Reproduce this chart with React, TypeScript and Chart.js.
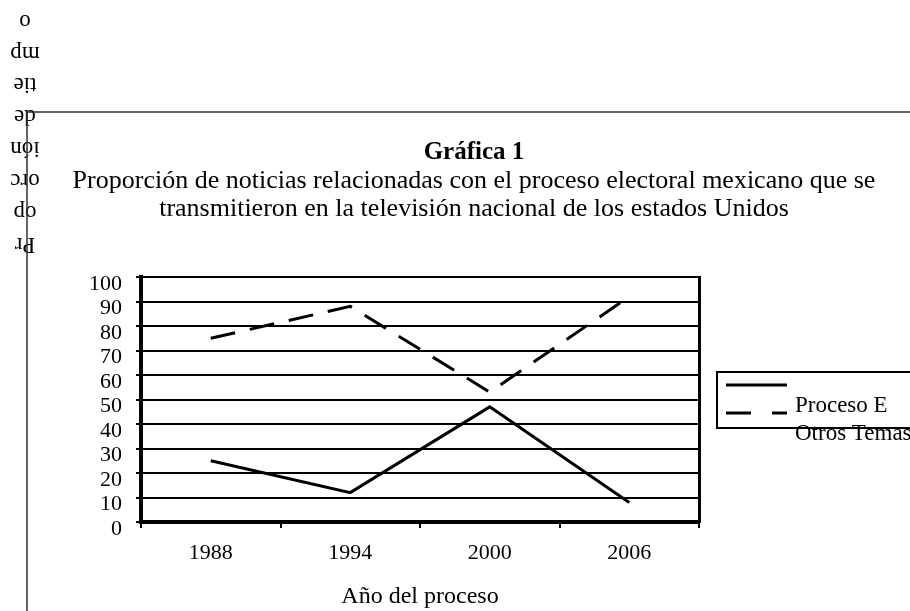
import React, { useEffect, useRef } from 'react';
import { Chart, registerables } from 'chart.js';

Chart.register(...registerables);

// ---- data ----
const categories = ['1988', '1994', '2000', '2006'];
const procesoElectoral = [25, 12, 47, 8];
const otrosTemas = [75, 88, 53, 92];
const seriesLabels = ['Proceso E', 'Otros Temas'];
const yMin = 0;
const yMax = 100;
const yStep = 10;
const titleText = 'Gráfica 1';
const subtitleLines = [
  'Proporción de noticias relacionadas con el proceso electoral mexicano que se',
  'transmitieron en la televisión nacional de los estados Unidos',
];
const xAxisTitle = 'Año del proceso';
// y-axis title as wrapped (and upside-down) in the original
const yAxisTitleChunks = ['Pr', 'op', 'orc', 'ión', 'de', 'tie', 'mp', 'o'];

const FONT = '"Liberation Serif", "Times New Roman", serif';

const framePlugin = {
  id: 'frameAndYTitle',
  beforeDraw(chart: any) {
    const ctx = chart.ctx;
    ctx.save();
    ctx.fillStyle = '#000';
    ctx.font = `23px ${FONT}`;
    ctx.textAlign = 'center';
    ctx.textBaseline = 'middle';
    yAxisTitleChunks.forEach((chunk, i) => {
      ctx.save();
      ctx.translate(25, 244 - i * 31.9);
      ctx.rotate(Math.PI);
      ctx.fillText(chunk, 0, 0);
      ctx.restore();
    });
    ctx.strokeStyle = '#333';
    ctx.lineWidth = 1.5;
    ctx.beginPath();
    ctx.moveTo(27, 112);
    ctx.lineTo(chart.width, 112);
    ctx.moveTo(27, 111);
    ctx.lineTo(27, chart.height);
    ctx.stroke();
    ctx.restore();
  },
};

const legendPlugin = {
  id: 'oddLegend',
  afterDraw(chart: any) {
    const ctx = chart.ctx;
    ctx.save();
    ctx.strokeStyle = '#000';
    ctx.lineWidth = 2;
    ctx.strokeRect(717, 372, 260, 56);
    chart.data.datasets.forEach((ds: any, i: number) => {
      const ly = 385 + i * 28;
      ctx.beginPath();
      ctx.lineWidth = 3;
      ctx.setLineDash(ds.legendDash || []);
      ctx.moveTo(726, ly);
      ctx.lineTo(787, ly);
      ctx.stroke();
      ctx.setLineDash([]);
      ctx.fillStyle = '#000';
      ctx.font = `23px ${FONT}`;
      ctx.textAlign = 'left';
      ctx.textBaseline = 'alphabetic';
      ctx.fillText(ds.label, 795, ly + 27);
    });
    ctx.restore();
  },
};

export default function App() {
  const canvasRef = useRef<HTMLCanvasElement | null>(null);

  useEffect(() => {
    document.body.style.margin = '0';
    const canvas = canvasRef.current;
    if (!canvas) return;
    const chart = new Chart(canvas, {
      type: 'line',
      data: {
        labels: categories,
        datasets: [
          {
            label: seriesLabels[0],
            data: procesoElectoral,
            borderColor: '#000',
            backgroundColor: '#000',
            borderWidth: 3,
            pointRadius: 0,
            tension: 0,
            legendDash: [],
          } as any,
          {
            label: seriesLabels[1],
            data: otrosTemas,
            borderColor: '#000',
            backgroundColor: '#000',
            borderWidth: 3,
            borderDash: [25, 15],
            pointRadius: 0,
            tension: 0,
            legendDash: [25, 21],
          } as any,
        ],
      },
      options: {
        responsive: false,
        animation: false,
        devicePixelRatio: 1,
        layout: { padding: { left: 38, right: 0, top: 0, bottom: 0 } },
        plugins: {
          legend: { display: false },
          tooltip: { enabled: false },
          title: {
            display: true,
            text: titleText,
            color: '#000',
            font: { family: FONT, size: 25, weight: 'bold', lineHeight: 28 / 25 },
            padding: { top: 139, bottom: 0 },
          },
          subtitle: {
            display: true,
            text: subtitleLines,
            color: '#000',
            font: { family: FONT, size: 26, weight: 'normal', lineHeight: 28 / 26 },
            padding: { top: 0, bottom: 54 },
          },
        },
        scales: {
          x: {
            type: 'category',
            offset: true,
            afterFit: (s: any) => { s.height = 89; },
            grid: {
              display: true,
              offset: true,
              drawOnChartArea: false,
              drawTicks: true,
              tickLength: 6,
              color: '#000',
              lineWidth: 2,
            },
            border: { display: true, color: '#000', width: 4 },
            ticks: {
              color: '#000',
              font: { family: FONT, size: 22 },
              padding: 12,
              maxRotation: 0,
            },
            title: {
              display: true,
              text: xAxisTitle,
              color: '#000',
              font: { family: FONT, size: 24, lineHeight: 1.2 },
              padding: { top: 0, bottom: 0 },
            },
          },
          y: {
            type: 'linear',
            position: 'left',
            min: yMin,
            max: yMax,
            afterFit: (s: any) => { s.width = 103; },
            grid: {
              color: '#000',
              lineWidth: 2,
              drawTicks: true,
              tickLength: 5,
            },
            border: { display: true, color: '#000', width: 4 },
            ticks: {
              stepSize: yStep,
              autoSkip: false,
              color: '#000',
              font: { family: FONT, size: 22 },
              padding: 14,
              labelOffset: 7,
            },
          },
          frameRight: {
            type: 'linear',
            position: 'right',
            display: true,
            afterFit: (s: any) => { s.width = 211; },
            grid: { display: false, drawOnChartArea: false, drawTicks: false },
            border: { display: true, color: '#000', width: 3 },
            ticks: { display: false },
          },
        },
      } as any,
      plugins: [framePlugin, legendPlugin],
    });
    return () => chart.destroy();
  }, []);

  return (
    <div style={{ width: 910, height: 611, position: 'relative', background: '#fff' }}>
      <canvas ref={canvasRef} width={910} height={611} style={{ display: 'block' }} />
    </div>
  );
}
